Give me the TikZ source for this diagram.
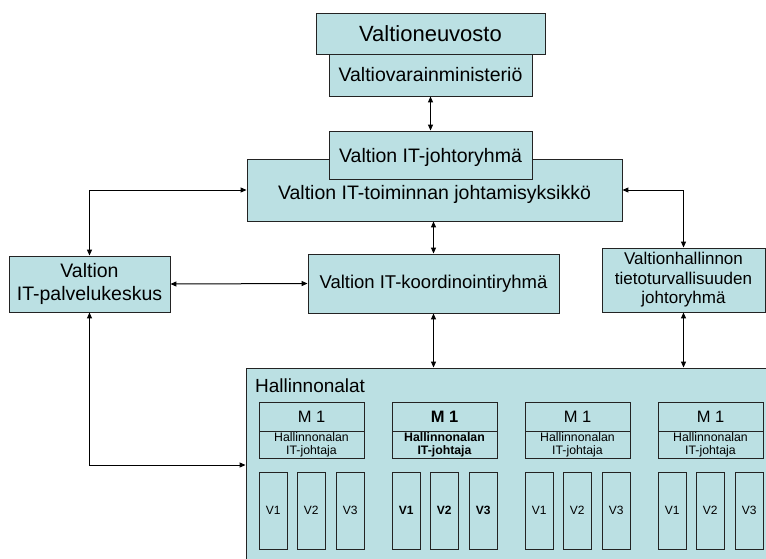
\documentclass[tikz,border=0pt]{standalone}
\usepackage{fontspec}
\setmainfont{Liberation Sans}
\usetikzlibrary{arrows.meta}

\definecolor{boxfill}{RGB}{187,224,227}
\definecolor{boxline}{RGB}{35,35,35}

\tikzset{
  orgbox/.style={draw=boxline, fill=boxfill, line width=0.9pt, inner sep=0pt, align=center,
    font=\fontsize{19.5}{23}\selectfont},
  subbox/.style={draw=boxline, line width=0.9pt, inner sep=0pt, align=center},
  mbox/.style={subbox, minimum width=105pt, minimum height=29pt, font=#1\fontsize{16.5}{19}\selectfont},
  mbox/.default={},
  hbox/.style={subbox, minimum width=105pt, minimum height=27pt, font=#1\fontsize{12.3}{13}\selectfont},
  hbox/.default={},
  vbox/.style={subbox, minimum width=28.5pt, minimum height=77pt, font=#1\fontsize{12}{13}\selectfont},
  vbox/.default={},
  link/.style={draw=black, line width=1pt,
    {Triangle[length=6pt,width=5pt]}-{Triangle[length=6pt,width=5pt]}}
}

\begin{document}
\begin{tikzpicture}[x=1pt, y=-1pt]
  \useasboundingbox (0,0) rectangle (766,558);

  % ministry level
  \node[orgbox, minimum width=229pt, minimum height=41pt, font=\fontsize{22}{26}\selectfont] (vn) at (430.5,33.5) {Valtioneuvosto};
  \node[orgbox, minimum width=203pt, minimum height=42pt] (vm) at (430.5,75) {Valtiovarainministeriö};

  % steering
  \node[orgbox, minimum width=375pt, minimum height=62pt, text height=22pt, text depth=4pt] (jy) at (434.5,190) {Valtion IT-toiminnan johtamisyksikkö};
  \node[orgbox, minimum width=203pt, minimum height=48pt, text depth=0pt] (jr) at (430.5,155) {Valtion IT-johtoryhmä};

  \node[orgbox, minimum width=161pt, minimum height=56pt] (pk) at (89.5,284) {Valtion\\IT-palvelukeskus};
  \node[orgbox, minimum width=251pt, minimum height=59pt, font=\fontsize{18.5}{22}\selectfont] (kr) at (433.5,283.5) {Valtion IT-koordinointiryhmä};
  \node[orgbox, minimum width=163pt, minimum height=64pt, font=\fontsize{17}{19.5}\selectfont] (tt) at (683.5,280) {Valtionhallinnon\\tietoturvallisuuden\\johtoryhmä};

  % ministries
  \node[orgbox, minimum width=524pt, minimum height=194pt] (ha) at (508,465) {};
  \node[anchor=base west, inner sep=0pt, font=\fontsize{19}{22}\selectfont] (halabel) at (255,392) {Hallinnonalat};

  \foreach \i/\f in {1/\mdseries, 2/\bfseries, 3/\mdseries, 4/\mdseries}{
    \pgfmathsetmacro{\gx}{259+133*(\i-1)}
    \node[mbox=\f] (m\i) at (\gx+52.5,416.5) {M 1};
    \node[hbox=\f] (h\i) at (\gx+52.5,444.5) {Hallinnonalan\\IT-johtaja};
    \foreach \j/\o in {1/0, 2/38, 3/77}{
      \node[vbox=\f] (v\i\j) at (\gx+\o+14.25,510.5) {V\j};
    }
  }

  % connectors
  \draw[link] (vm.south) -- (jr.north);
  \draw[link] (jy.west) -| (pk.north);
  \draw[link] (jy.east) -| (tt.north);
  \draw[link] (pk.east) -- (kr.west);
  \draw[link] (kr.north) -- (kr.north |- jy.south);
  \draw[link] (kr.south) -- (kr.south |- ha.north);
  \draw[link] (tt.south) -- (tt.south |- ha.north);
  \draw[link] (pk.south) |- (ha.west);
\end{tikzpicture}
\end{document}
